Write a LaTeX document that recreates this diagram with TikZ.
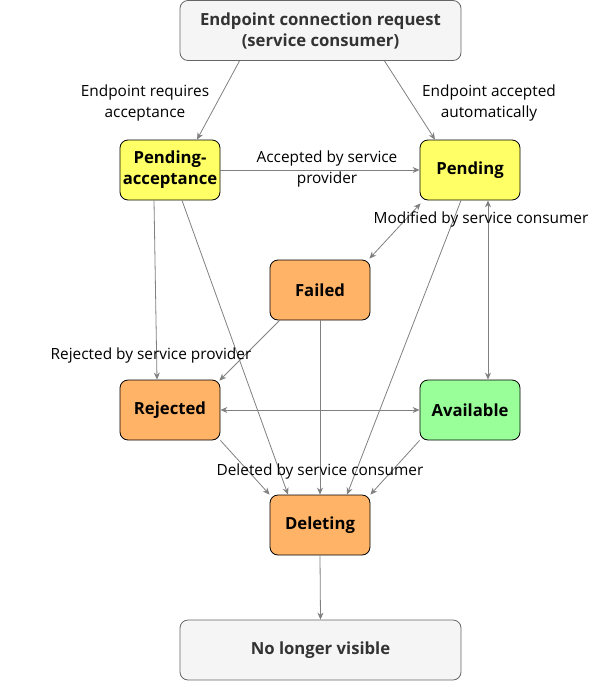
\documentclass[tikz,border=0pt]{standalone}
\usepackage{fontspec}
\setmainfont{Open Sans}
\usetikzlibrary{arrows.meta,calc}
\definecolor{edgegray}{HTML}{808080}
\definecolor{ylw}{HTML}{FFFF66}
\definecolor{org}{HTML}{FFB366}
\definecolor{grn}{HTML}{99FF99}
\definecolor{lgray}{HTML}{F5F5F5}
\definecolor{dgray}{HTML}{666666}
\definecolor{tgray}{HTML}{333333}
\tikzset{
  x=1pt,y=-1pt,
  state/.style={draw=black,line width=0.8pt,rounded corners=8pt,minimum width=100pt,minimum height=60pt,
    align=center,font=\fontsize{16.7}{21}\selectfont\bfseries,inner sep=1pt},
  endbox/.style={draw=dgray,fill=lgray,line width=0.8pt,rounded corners=8pt,minimum width=281pt,minimum height=60pt,
    align=center,font=\fontsize{16.7}{21}\selectfont\bfseries,text=tgray},
  conn/.style={draw=edgegray,line width=0.8pt,-{Stealth[length=7pt,width=6pt]}},
  biconn/.style={draw=edgegray,line width=0.8pt,{Stealth[length=7pt,width=6pt]}-{Stealth[length=7pt,width=6pt]}},
  lbl/.style={align=center,font=\fontsize{15.4}{21}\selectfont,inner sep=0pt}
}
\begin{document}
\begin{tikzpicture}
\useasboundingbox (0,0) rectangle (591,681);
\node[endbox] (top) at (320.5,30.5) {Endpoint connection request\\(service consumer)};
\node[state,fill=ylw] (pa) at (170,170) {Pending-\\acceptance};
\node[state,fill=ylw] (pend) at (470,170) {Pending};
\node[state,fill=org] (failed) at (320,290) {Failed};
\node[state,fill=org] (rej) at (170,410) {Rejected};
\node[state,fill=grn] (avail) at (470,410) {Available};
\node[state,fill=org] (del) at (320,525) {Deleting};
\node[endbox] (nlv) at (320.5,650) {No longer visible};

\draw[conn] ([xshift=-81pt]top.south) -- ([xshift=27pt]pa.north);
\draw[conn] ([xshift=64pt]top.south) -- ([xshift=-35pt]pend.north);
\draw[conn] (pa.east) -- (pend.west);
\draw[biconn] ([shift={(1pt,-3pt)}]pend.south west) -- ([shift={(-1pt,1pt)}]failed.north east);
\draw[conn] ([xshift=-9pt]pend.south) -- ([xshift=27pt]del.north);
\draw[biconn] ([xshift=18pt]pend.south) -- ([xshift=18pt]avail.north);
\draw[conn] ([xshift=-16pt]pa.south) -- ([xshift=-13pt]rej.north);
\draw[conn] ([xshift=12pt]pa.south) -- ([xshift=-32pt]del.north);
\draw[conn] ([xshift=10pt]failed.south west) -- ([shift={(-1pt,-1pt)}]rej.north east);
\draw[conn] (failed.south) -- (del.north);
\draw[biconn] (rej.east) -- (avail.west);
\draw[conn] (rej.south east) -- (del.north west);
\draw[conn] (avail.south west) -- (del.north east);
\draw[conn] (del.south) -- (nlv.north);

\node[lbl] (l1) at (145,103) {Endpoint requires\\acceptance};
\node[lbl] (l2) at (489,103) {Endpoint accepted\\automatically};
\node[lbl] (l3) at (327,169) {Accepted by service\\provider};
\node[lbl] (l4) at (481,219) {Modified by service consumer};
\node[lbl] (l5) at (151,355) {Rejected by service provider};
\node[lbl] (l6) at (320,471) {Deleted by service consumer};
\end{tikzpicture}
\end{document}
